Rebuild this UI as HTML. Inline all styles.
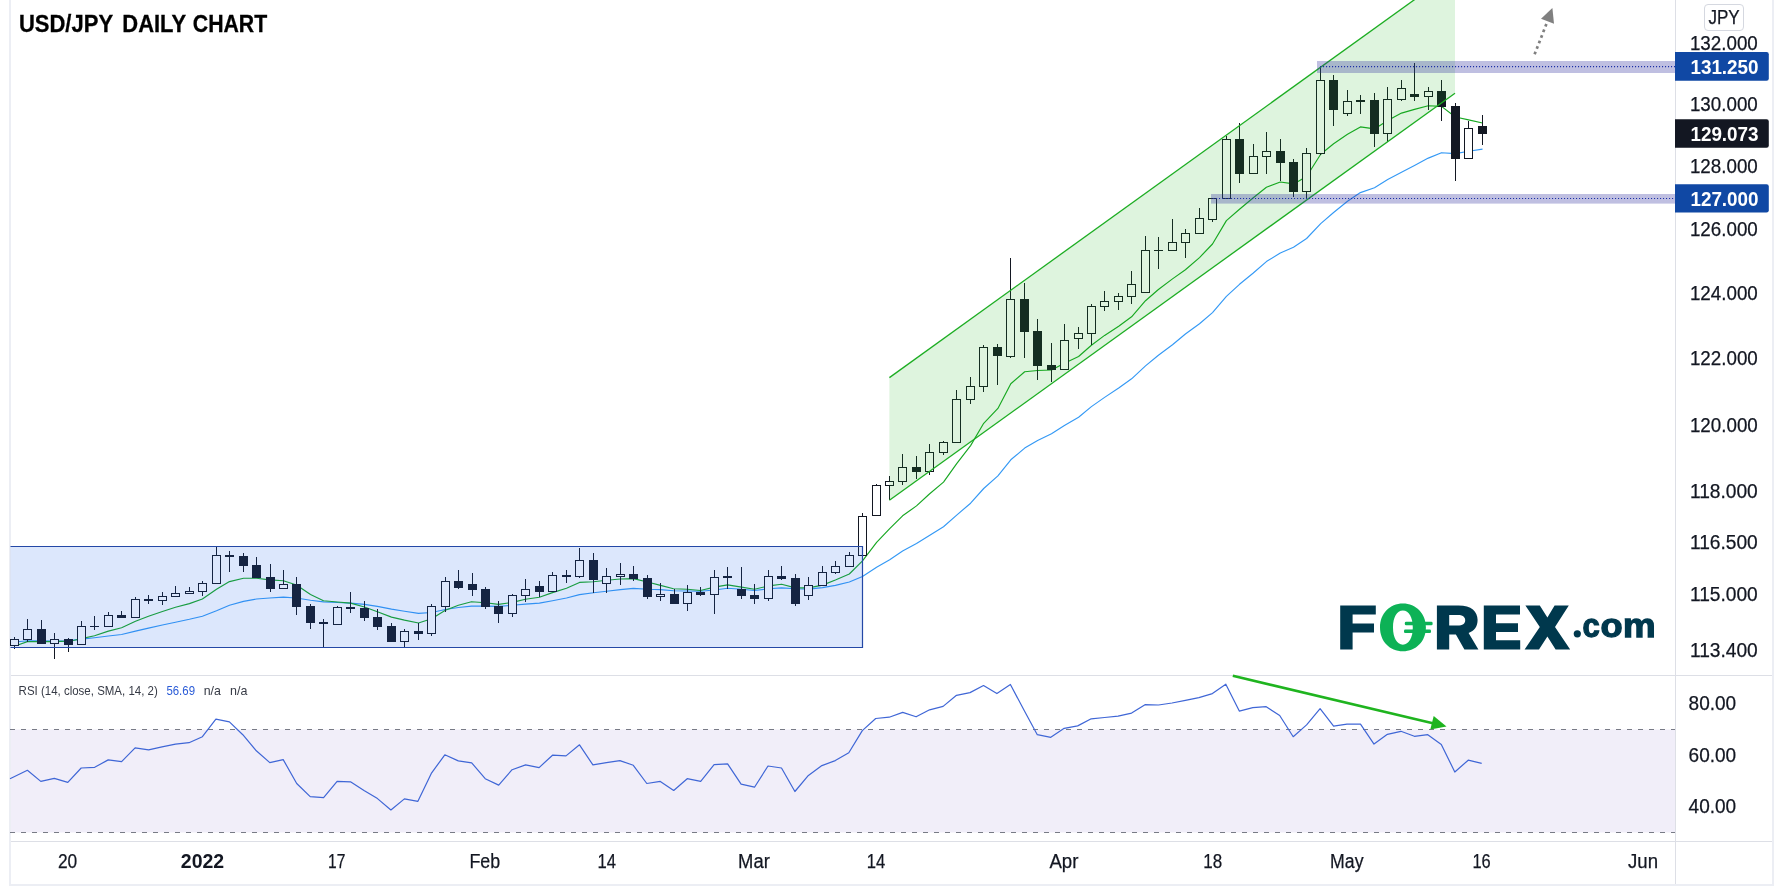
<!DOCTYPE html>
<html><head><meta charset="utf-8"><title>USD/JPY Daily Chart</title>
<style>html,body{margin:0;padding:0;background:#fff;}body{width:1783px;height:887px;overflow:hidden;font-family:"Liberation Sans",sans-serif;}svg{display:block;will-change:transform;}text{font-family:"Liberation Sans",sans-serif;}</style>
</head><body>
<svg width="1783" height="887" viewBox="0 0 1783 887">
<rect x="0" y="0" width="1783" height="887" fill="#ffffff"/>
<g shape-rendering="crispEdges">
<rect x="9" y="0" width="2" height="886" fill="#eceef4"/>
<rect x="1772" y="0" width="2" height="886" fill="#eceef4"/>
<rect x="9" y="884" width="1765" height="2" fill="#eceef4"/>
<rect x="11" y="675" width="1761" height="1" fill="#dddfe6"/>
<rect x="11" y="841" width="1761" height="1" fill="#dddfe6"/>
<rect x="1675" y="0" width="1" height="884" fill="#dddfe6"/>
</g>
<rect x="11" y="729.5" width="1664" height="103" fill="#f1eef9"/>
<g stroke="#787b86" stroke-width="1" stroke-dasharray="5 6" fill="none" shape-rendering="crispEdges">
<line x1="9.9" y1="729.5" x2="1675" y2="729.5"/>
<line x1="9.9" y1="832.5" x2="1675" y2="832.5"/>
</g>
<polyline points="10.0,778.7 27.4,770.3 40.8,781.4 54.3,778.4 67.8,782.4 81.2,768.0 94.7,767.3 108.2,759.9 121.6,761.6 135.1,747.8 148.6,749.8 162.0,746.8 175.5,744.1 189.0,742.7 202.4,736.7 215.9,719.2 229.4,721.9 242.8,734.7 256.3,750.8 269.8,762.6 283.2,759.6 296.7,783.5 310.2,796.6 323.6,797.6 337.1,781.4 350.5,781.8 364.0,790.5 377.5,798.6 390.9,810.0 404.4,798.9 417.9,801.3 431.3,773.4 444.8,754.8 458.3,760.9 471.7,762.9 485.2,778.7 498.7,785.1 512.1,769.7 525.6,764.9 539.1,767.6 552.5,755.2 566.0,755.9 579.5,744.8 592.9,764.9 606.4,762.6 619.9,760.6 633.3,765.3 646.8,783.5 660.3,781.4 673.7,790.5 687.2,778.7 700.7,781.4 714.1,764.6 727.6,763.9 741.1,784.1 754.5,787.2 768.0,766.0 781.5,768.0 794.9,791.5 808.4,775.4 821.9,765.6 835.3,760.6 848.8,752.8 862.3,730.6 875.7,718.5 889.2,717.2 902.7,712.4 916.1,716.8 929.6,709.8 943.1,706.4 956.5,695.3 970.0,692.6 983.5,685.5 996.9,693.6 1010.4,684.5 1023.8,709.8 1037.3,734.7 1050.8,737.3 1064.2,728.3 1077.7,725.9 1091.2,718.8 1104.6,717.5 1118.1,716.1 1131.6,713.1 1145.0,704.7 1158.5,705.0 1172.0,703.0 1185.4,700.3 1198.9,697.6 1212.4,693.6 1225.8,684.2 1239.3,711.1 1252.8,707.7 1266.2,706.7 1279.7,715.5 1293.2,736.7 1306.6,724.9 1320.1,708.7 1333.6,726.2 1347.0,724.2 1360.5,724.2 1374.0,744.1 1387.4,734.3 1400.9,731.3 1414.4,736.3 1427.8,734.7 1441.3,744.4 1454.8,772.0 1468.2,760.2 1481.7,763.3" fill="none" stroke="#3f66d6" stroke-width="1.2" stroke-linejoin="round"/>
<polyline points="10.5,642.5 27.4,640.8 41.4,640.8 54.5,641.1 67.5,640.8 81.5,639.1 94.5,637.7 108.4,636.0 121.6,634.5 135.5,631.1 148.5,628.1 162.4,625.0 175.5,622.2 189.4,619.3 202.4,616.2 216.5,610.8 229.5,605.3 243.5,601.4 256.5,599.0 269.6,598.0 283.4,597.1 296.5,598.0 310.5,600.3 323.5,601.9 337.5,602.5 350.5,603.1 364.4,604.4 377.4,606.4 391.5,609.1 404.5,611.2 418.5,613.4 431.6,612.5 445.4,609.5 458.4,607.5 471.5,606.1 485.5,606.1 498.5,606.4 512.4,605.3 525.4,604.1 539.4,603.1 552.5,600.7 566.5,598.0 579.5,594.6 593.5,592.7 606.6,591.3 620.4,589.6 633.4,588.4 647.5,589.3 660.5,589.6 673.5,590.8 687.4,591.0 700.4,591.3 714.4,590.0 727.6,588.3 741.5,589.3 754.5,590.5 768.6,588.8 781.6,587.9 795.5,588.8 808.5,589.1 822.5,587.6 835.4,585.4 849.3,582.0 862.5,576.5 876.6,567.2 889.7,559.8 902.6,551.1 916.5,543.6 929.4,535.4 943.5,526.7 956.7,515.1 970.6,503.2 983.7,488.5 997.9,475.9 1010.8,459.8 1024.7,448.1 1037.6,440.4 1051.5,433.8 1064.4,425.6 1078.6,417.2 1091.4,406.6 1104.6,397.4 1118.7,388.0 1131.6,378.8 1145.5,365.9 1158.4,355.2 1172.5,344.8 1185.4,334.0 1199.5,323.8 1212.5,312.6 1226.4,296.3 1239.5,284.3 1253.0,273.3 1266.4,261.6 1280.3,253.0 1293.5,247.2 1306.6,238.5 1320.7,223.6 1333.6,212.5 1347.5,201.3 1360.4,192.6 1374.5,187.7 1387.7,179.5 1401.5,172.2 1414.5,165.4 1428.3,158.1 1441.5,152.7 1455.4,153.6 1468.6,151.3 1482.5,149.1" fill="none" stroke="#3499f5" stroke-width="1.15" stroke-linejoin="round"/>
<polyline points="10.0,645.5 18.6,644.7 27.4,641.6 41.4,641.6 54.5,641.6 67.5,641.1 74.4,640.3 81.5,638.6 94.5,635.7 108.4,631.1 121.6,627.8 135.5,621.3 148.5,616.2 162.4,611.5 175.5,607.3 189.4,603.6 202.4,599.0 216.5,589.2 229.5,581.6 243.5,578.2 256.5,578.2 269.6,579.9 283.4,580.7 296.5,585.0 310.5,594.5 323.5,600.7 337.5,602.0 350.5,603.1 364.4,607.0 377.4,611.7 391.5,617.1 404.5,620.1 418.5,623.0 431.6,618.8 445.4,610.3 458.4,605.3 471.5,601.7 485.5,602.7 498.5,604.4 512.4,602.4 525.4,599.3 539.4,597.3 552.5,592.6 566.5,588.3 579.5,582.4 593.5,581.7 606.6,580.3 620.4,579.0 633.4,578.6 647.5,582.0 660.5,585.4 673.5,588.8 687.4,589.3 700.4,590.5 714.4,587.1 727.6,584.9 741.5,587.1 754.5,589.3 768.6,585.9 781.6,584.2 795.5,587.9 808.5,587.9 822.5,585.1 835.4,580.0 849.3,574.0 862.5,560.8 876.6,542.4 889.7,528.7 902.6,515.8 916.5,505.9 929.4,494.0 943.5,482.1 956.7,463.7 970.6,445.6 983.7,423.3 997.9,408.4 1010.8,383.7 1024.7,371.8 1037.6,370.5 1051.5,370.0 1064.4,363.2 1078.6,356.5 1091.4,345.3 1104.6,335.4 1118.7,326.2 1131.6,316.8 1145.5,300.7 1158.4,289.5 1172.5,278.9 1185.4,269.8 1199.5,257.6 1212.5,244.0 1226.4,220.6 1239.5,209.3 1253.0,198.0 1266.4,187.3 1280.3,182.0 1293.7,183.9 1306.6,176.5 1320.7,154.2 1333.6,143.8 1347.5,134.3 1360.4,126.9 1374.5,128.9 1387.7,120.5 1401.5,113.1 1414.5,109.4 1428.3,105.8 1441.5,106.4 1455.4,117.0 1468.6,119.9 1482.5,123.0" fill="none" stroke="#17a722" stroke-width="1.15" stroke-linejoin="round"/>
<g shape-rendering="crispEdges">
<rect x="14" y="637" width="1" height="12" fill="#131722"/>
<rect x="10" y="639" width="9" height="7" fill="#131722"/>
<rect x="11" y="640" width="7" height="5" fill="#ffffff"/>
<rect x="27" y="619" width="1" height="23" fill="#131722"/>
<rect x="23" y="629" width="9" height="11" fill="#131722"/>
<rect x="24" y="630" width="7" height="9" fill="#ffffff"/>
<rect x="41" y="620" width="1" height="24" fill="#131722"/>
<rect x="37" y="629" width="9" height="15" fill="#131722"/>
<rect x="54" y="633" width="1" height="26" fill="#131722"/>
<rect x="50" y="639" width="9" height="5" fill="#131722"/>
<rect x="51" y="640" width="7" height="3" fill="#ffffff"/>
<rect x="68" y="638" width="1" height="14" fill="#131722"/>
<rect x="64" y="639" width="9" height="6" fill="#131722"/>
<rect x="81" y="621" width="1" height="24" fill="#131722"/>
<rect x="77" y="626" width="9" height="19" fill="#131722"/>
<rect x="78" y="627" width="7" height="17" fill="#ffffff"/>
<rect x="94" y="616" width="1" height="14" fill="#131722"/>
<rect x="90" y="626" width="9" height="1" fill="#131722"/>
<rect x="108" y="612" width="1" height="15" fill="#131722"/>
<rect x="104" y="615" width="9" height="12" fill="#131722"/>
<rect x="105" y="616" width="7" height="10" fill="#ffffff"/>
<rect x="121" y="611" width="1" height="7" fill="#131722"/>
<rect x="117" y="615" width="9" height="3" fill="#131722"/>
<rect x="135" y="597" width="1" height="21" fill="#131722"/>
<rect x="131" y="599" width="9" height="19" fill="#131722"/>
<rect x="132" y="600" width="7" height="17" fill="#ffffff"/>
<rect x="148" y="595" width="1" height="9" fill="#131722"/>
<rect x="144" y="599" width="9" height="2" fill="#131722"/>
<rect x="162" y="592" width="1" height="13" fill="#131722"/>
<rect x="158" y="596" width="9" height="5" fill="#131722"/>
<rect x="159" y="597" width="7" height="3" fill="#ffffff"/>
<rect x="175" y="586" width="1" height="11" fill="#131722"/>
<rect x="171" y="593" width="9" height="4" fill="#131722"/>
<rect x="172" y="594" width="7" height="2" fill="#ffffff"/>
<rect x="189" y="587" width="1" height="7" fill="#131722"/>
<rect x="185" y="591" width="9" height="3" fill="#131722"/>
<rect x="186" y="592" width="7" height="1" fill="#ffffff"/>
<rect x="202" y="581" width="1" height="15" fill="#131722"/>
<rect x="198" y="583" width="9" height="9" fill="#131722"/>
<rect x="199" y="584" width="7" height="7" fill="#ffffff"/>
<rect x="216" y="546" width="1" height="38" fill="#131722"/>
<rect x="212" y="555" width="9" height="29" fill="#131722"/>
<rect x="213" y="556" width="7" height="27" fill="#ffffff"/>
<rect x="229" y="551" width="1" height="21" fill="#131722"/>
<rect x="225" y="555" width="9" height="2" fill="#131722"/>
<rect x="243" y="553" width="1" height="19" fill="#131722"/>
<rect x="239" y="556" width="9" height="10" fill="#131722"/>
<rect x="256" y="557" width="1" height="21" fill="#131722"/>
<rect x="252" y="565" width="9" height="13" fill="#131722"/>
<rect x="270" y="564" width="1" height="28" fill="#131722"/>
<rect x="266" y="577" width="9" height="12" fill="#131722"/>
<rect x="283" y="570" width="1" height="19" fill="#131722"/>
<rect x="279" y="584" width="9" height="5" fill="#131722"/>
<rect x="280" y="585" width="7" height="3" fill="#ffffff"/>
<rect x="296" y="577" width="1" height="38" fill="#131722"/>
<rect x="292" y="584" width="9" height="23" fill="#131722"/>
<rect x="310" y="604" width="1" height="25" fill="#131722"/>
<rect x="306" y="606" width="9" height="17" fill="#131722"/>
<rect x="323" y="619" width="1" height="28" fill="#131722"/>
<rect x="319" y="622" width="9" height="2" fill="#131722"/>
<rect x="337" y="606" width="1" height="19" fill="#131722"/>
<rect x="333" y="607" width="9" height="18" fill="#131722"/>
<rect x="334" y="608" width="7" height="16" fill="#ffffff"/>
<rect x="350" y="592" width="1" height="21" fill="#131722"/>
<rect x="346" y="607" width="9" height="2" fill="#131722"/>
<rect x="364" y="601" width="1" height="20" fill="#131722"/>
<rect x="360" y="608" width="9" height="10" fill="#131722"/>
<rect x="377" y="609" width="1" height="21" fill="#131722"/>
<rect x="373" y="617" width="9" height="10" fill="#131722"/>
<rect x="391" y="623" width="1" height="19" fill="#131722"/>
<rect x="387" y="626" width="9" height="16" fill="#131722"/>
<rect x="404" y="629" width="1" height="18" fill="#131722"/>
<rect x="400" y="631" width="9" height="11" fill="#131722"/>
<rect x="401" y="632" width="7" height="9" fill="#ffffff"/>
<rect x="418" y="623" width="1" height="17" fill="#131722"/>
<rect x="414" y="631" width="9" height="3" fill="#131722"/>
<rect x="431" y="604" width="1" height="32" fill="#131722"/>
<rect x="427" y="606" width="9" height="28" fill="#131722"/>
<rect x="428" y="607" width="7" height="26" fill="#ffffff"/>
<rect x="445" y="577" width="1" height="35" fill="#131722"/>
<rect x="441" y="581" width="9" height="26" fill="#131722"/>
<rect x="442" y="582" width="7" height="24" fill="#ffffff"/>
<rect x="458" y="570" width="1" height="19" fill="#131722"/>
<rect x="454" y="581" width="9" height="7" fill="#131722"/>
<rect x="472" y="573" width="1" height="23" fill="#131722"/>
<rect x="468" y="584" width="9" height="6" fill="#131722"/>
<rect x="485" y="587" width="1" height="22" fill="#131722"/>
<rect x="481" y="589" width="9" height="18" fill="#131722"/>
<rect x="498" y="601" width="1" height="22" fill="#131722"/>
<rect x="494" y="606" width="9" height="8" fill="#131722"/>
<rect x="512" y="594" width="1" height="23" fill="#131722"/>
<rect x="508" y="595" width="9" height="19" fill="#131722"/>
<rect x="509" y="596" width="7" height="17" fill="#ffffff"/>
<rect x="525" y="579" width="1" height="23" fill="#131722"/>
<rect x="521" y="589" width="9" height="7" fill="#131722"/>
<rect x="522" y="590" width="7" height="5" fill="#ffffff"/>
<rect x="539" y="581" width="1" height="16" fill="#131722"/>
<rect x="535" y="586" width="9" height="6" fill="#131722"/>
<rect x="552" y="572" width="1" height="20" fill="#131722"/>
<rect x="548" y="575" width="9" height="17" fill="#131722"/>
<rect x="549" y="576" width="7" height="15" fill="#ffffff"/>
<rect x="566" y="570" width="1" height="13" fill="#131722"/>
<rect x="562" y="575" width="9" height="2" fill="#131722"/>
<rect x="579" y="548" width="1" height="30" fill="#131722"/>
<rect x="575" y="560" width="9" height="17" fill="#131722"/>
<rect x="576" y="561" width="7" height="15" fill="#ffffff"/>
<rect x="593" y="553" width="1" height="40" fill="#131722"/>
<rect x="589" y="560" width="9" height="20" fill="#131722"/>
<rect x="606" y="568" width="1" height="25" fill="#131722"/>
<rect x="602" y="576" width="9" height="8" fill="#131722"/>
<rect x="603" y="577" width="7" height="6" fill="#ffffff"/>
<rect x="620" y="563" width="1" height="22" fill="#131722"/>
<rect x="616" y="574" width="9" height="3" fill="#131722"/>
<rect x="617" y="575" width="7" height="1" fill="#ffffff"/>
<rect x="633" y="566" width="1" height="15" fill="#131722"/>
<rect x="629" y="574" width="9" height="5" fill="#131722"/>
<rect x="647" y="575" width="1" height="24" fill="#131722"/>
<rect x="643" y="578" width="9" height="19" fill="#131722"/>
<rect x="660" y="583" width="1" height="18" fill="#131722"/>
<rect x="656" y="594" width="9" height="3" fill="#131722"/>
<rect x="657" y="595" width="7" height="1" fill="#ffffff"/>
<rect x="674" y="589" width="1" height="15" fill="#131722"/>
<rect x="670" y="594" width="9" height="10" fill="#131722"/>
<rect x="687" y="585" width="1" height="26" fill="#131722"/>
<rect x="683" y="592" width="9" height="12" fill="#131722"/>
<rect x="684" y="593" width="7" height="10" fill="#ffffff"/>
<rect x="700" y="587" width="1" height="9" fill="#131722"/>
<rect x="696" y="592" width="9" height="3" fill="#131722"/>
<rect x="714" y="570" width="1" height="44" fill="#131722"/>
<rect x="710" y="577" width="9" height="18" fill="#131722"/>
<rect x="711" y="578" width="7" height="16" fill="#ffffff"/>
<rect x="727" y="567" width="1" height="22" fill="#131722"/>
<rect x="723" y="576" width="9" height="2" fill="#131722"/>
<rect x="741" y="567" width="1" height="32" fill="#131722"/>
<rect x="737" y="589" width="9" height="7" fill="#131722"/>
<rect x="754" y="584" width="1" height="20" fill="#131722"/>
<rect x="750" y="595" width="9" height="4" fill="#131722"/>
<rect x="768" y="570" width="1" height="31" fill="#131722"/>
<rect x="764" y="576" width="9" height="23" fill="#131722"/>
<rect x="765" y="577" width="7" height="21" fill="#ffffff"/>
<rect x="781" y="566" width="1" height="14" fill="#131722"/>
<rect x="777" y="576" width="9" height="3" fill="#131722"/>
<rect x="795" y="574" width="1" height="32" fill="#131722"/>
<rect x="791" y="578" width="9" height="26" fill="#131722"/>
<rect x="808" y="577" width="1" height="23" fill="#131722"/>
<rect x="804" y="585" width="9" height="11" fill="#131722"/>
<rect x="805" y="586" width="7" height="9" fill="#ffffff"/>
<rect x="822" y="566" width="1" height="20" fill="#131722"/>
<rect x="818" y="572" width="9" height="14" fill="#131722"/>
<rect x="819" y="573" width="7" height="12" fill="#ffffff"/>
<rect x="835" y="561" width="1" height="13" fill="#131722"/>
<rect x="831" y="566" width="9" height="7" fill="#131722"/>
<rect x="832" y="567" width="7" height="5" fill="#ffffff"/>
<rect x="849" y="552" width="1" height="15" fill="#131722"/>
<rect x="845" y="555" width="9" height="12" fill="#131722"/>
<rect x="846" y="556" width="7" height="10" fill="#ffffff"/>
<rect x="862" y="513" width="1" height="43" fill="#131722"/>
<rect x="858" y="516" width="9" height="40" fill="#131722"/>
<rect x="859" y="517" width="7" height="38" fill="#ffffff"/>
<rect x="876" y="484" width="1" height="32" fill="#131722"/>
<rect x="872" y="485" width="9" height="31" fill="#131722"/>
<rect x="873" y="486" width="7" height="29" fill="#ffffff"/>
<rect x="889" y="476" width="1" height="24" fill="#131722"/>
<rect x="885" y="481" width="9" height="5" fill="#131722"/>
<rect x="886" y="482" width="7" height="3" fill="#ffffff"/>
<rect x="902" y="454" width="1" height="31" fill="#131722"/>
<rect x="898" y="467" width="9" height="15" fill="#131722"/>
<rect x="899" y="468" width="7" height="13" fill="#ffffff"/>
<rect x="916" y="456" width="1" height="23" fill="#131722"/>
<rect x="912" y="467" width="9" height="5" fill="#131722"/>
<rect x="929" y="444" width="1" height="31" fill="#131722"/>
<rect x="925" y="452" width="9" height="20" fill="#131722"/>
<rect x="926" y="453" width="7" height="18" fill="#ffffff"/>
<rect x="943" y="441" width="1" height="14" fill="#131722"/>
<rect x="939" y="442" width="9" height="11" fill="#131722"/>
<rect x="940" y="443" width="7" height="9" fill="#ffffff"/>
<rect x="956" y="390" width="1" height="53" fill="#131722"/>
<rect x="952" y="399" width="9" height="44" fill="#131722"/>
<rect x="953" y="400" width="7" height="42" fill="#ffffff"/>
<rect x="970" y="377" width="1" height="27" fill="#131722"/>
<rect x="966" y="386" width="9" height="14" fill="#131722"/>
<rect x="967" y="387" width="7" height="12" fill="#ffffff"/>
<rect x="983" y="345" width="1" height="47" fill="#131722"/>
<rect x="979" y="347" width="9" height="40" fill="#131722"/>
<rect x="980" y="348" width="7" height="38" fill="#ffffff"/>
<rect x="997" y="344" width="1" height="41" fill="#131722"/>
<rect x="993" y="347" width="9" height="9" fill="#131722"/>
<rect x="1010" y="258" width="1" height="100" fill="#131722"/>
<rect x="1006" y="299" width="9" height="58" fill="#131722"/>
<rect x="1007" y="300" width="7" height="56" fill="#ffffff"/>
<rect x="1024" y="283" width="1" height="75" fill="#131722"/>
<rect x="1020" y="299" width="9" height="33" fill="#131722"/>
<rect x="1037" y="319" width="1" height="61" fill="#131722"/>
<rect x="1033" y="331" width="9" height="35" fill="#131722"/>
<rect x="1051" y="343" width="1" height="39" fill="#131722"/>
<rect x="1047" y="365" width="9" height="5" fill="#131722"/>
<rect x="1064" y="324" width="1" height="46" fill="#131722"/>
<rect x="1060" y="340" width="9" height="30" fill="#131722"/>
<rect x="1061" y="341" width="7" height="28" fill="#ffffff"/>
<rect x="1078" y="327" width="1" height="22" fill="#131722"/>
<rect x="1074" y="333" width="9" height="6" fill="#131722"/>
<rect x="1075" y="334" width="7" height="4" fill="#ffffff"/>
<rect x="1091" y="304" width="1" height="41" fill="#131722"/>
<rect x="1087" y="306" width="9" height="28" fill="#131722"/>
<rect x="1088" y="307" width="7" height="26" fill="#ffffff"/>
<rect x="1104" y="291" width="1" height="20" fill="#131722"/>
<rect x="1100" y="301" width="9" height="6" fill="#131722"/>
<rect x="1101" y="302" width="7" height="4" fill="#ffffff"/>
<rect x="1118" y="293" width="1" height="17" fill="#131722"/>
<rect x="1114" y="296" width="9" height="6" fill="#131722"/>
<rect x="1115" y="297" width="7" height="4" fill="#ffffff"/>
<rect x="1131" y="271" width="1" height="33" fill="#131722"/>
<rect x="1127" y="284" width="9" height="13" fill="#131722"/>
<rect x="1128" y="285" width="7" height="11" fill="#ffffff"/>
<rect x="1145" y="236" width="1" height="57" fill="#131722"/>
<rect x="1141" y="250" width="9" height="43" fill="#131722"/>
<rect x="1142" y="251" width="7" height="41" fill="#ffffff"/>
<rect x="1158" y="237" width="1" height="32" fill="#131722"/>
<rect x="1154" y="250" width="9" height="1" fill="#131722"/>
<rect x="1172" y="219" width="1" height="32" fill="#131722"/>
<rect x="1168" y="242" width="9" height="9" fill="#131722"/>
<rect x="1169" y="243" width="7" height="7" fill="#ffffff"/>
<rect x="1185" y="229" width="1" height="29" fill="#131722"/>
<rect x="1181" y="233" width="9" height="10" fill="#131722"/>
<rect x="1182" y="234" width="7" height="8" fill="#ffffff"/>
<rect x="1199" y="208" width="1" height="26" fill="#131722"/>
<rect x="1195" y="218" width="9" height="16" fill="#131722"/>
<rect x="1196" y="219" width="7" height="14" fill="#ffffff"/>
<rect x="1212" y="198" width="1" height="24" fill="#131722"/>
<rect x="1208" y="198" width="9" height="22" fill="#131722"/>
<rect x="1209" y="199" width="7" height="20" fill="#ffffff"/>
<rect x="1226" y="136" width="1" height="63" fill="#131722"/>
<rect x="1222" y="139" width="9" height="60" fill="#131722"/>
<rect x="1223" y="140" width="7" height="58" fill="#ffffff"/>
<rect x="1239" y="123" width="1" height="60" fill="#131722"/>
<rect x="1235" y="139" width="9" height="35" fill="#131722"/>
<rect x="1253" y="144" width="1" height="30" fill="#131722"/>
<rect x="1249" y="156" width="9" height="18" fill="#131722"/>
<rect x="1250" y="157" width="7" height="16" fill="#ffffff"/>
<rect x="1266" y="132" width="1" height="42" fill="#131722"/>
<rect x="1262" y="151" width="9" height="6" fill="#131722"/>
<rect x="1263" y="152" width="7" height="4" fill="#ffffff"/>
<rect x="1280" y="139" width="1" height="42" fill="#131722"/>
<rect x="1276" y="151" width="9" height="12" fill="#131722"/>
<rect x="1293" y="159" width="1" height="38" fill="#131722"/>
<rect x="1289" y="162" width="9" height="30" fill="#131722"/>
<rect x="1306" y="148" width="1" height="51" fill="#131722"/>
<rect x="1302" y="153" width="9" height="39" fill="#131722"/>
<rect x="1303" y="154" width="7" height="37" fill="#ffffff"/>
<rect x="1320" y="66" width="1" height="89" fill="#131722"/>
<rect x="1316" y="80" width="9" height="74" fill="#131722"/>
<rect x="1317" y="81" width="7" height="72" fill="#ffffff"/>
<rect x="1333" y="75" width="1" height="51" fill="#131722"/>
<rect x="1329" y="80" width="9" height="30" fill="#131722"/>
<rect x="1347" y="90" width="1" height="26" fill="#131722"/>
<rect x="1343" y="101" width="9" height="13" fill="#131722"/>
<rect x="1344" y="102" width="7" height="11" fill="#ffffff"/>
<rect x="1360" y="95" width="1" height="19" fill="#131722"/>
<rect x="1356" y="100" width="9" height="2" fill="#131722"/>
<rect x="1374" y="93" width="1" height="54" fill="#131722"/>
<rect x="1370" y="100" width="9" height="34" fill="#131722"/>
<rect x="1387" y="87" width="1" height="55" fill="#131722"/>
<rect x="1383" y="99" width="9" height="35" fill="#131722"/>
<rect x="1384" y="100" width="7" height="33" fill="#ffffff"/>
<rect x="1401" y="80" width="1" height="21" fill="#131722"/>
<rect x="1397" y="88" width="9" height="12" fill="#131722"/>
<rect x="1398" y="89" width="7" height="10" fill="#ffffff"/>
<rect x="1414" y="63" width="1" height="38" fill="#131722"/>
<rect x="1410" y="94" width="9" height="3" fill="#131722"/>
<rect x="1428" y="87" width="1" height="23" fill="#131722"/>
<rect x="1424" y="91" width="9" height="6" fill="#131722"/>
<rect x="1425" y="92" width="7" height="4" fill="#ffffff"/>
<rect x="1441" y="80" width="1" height="41" fill="#131722"/>
<rect x="1437" y="91" width="9" height="16" fill="#131722"/>
<rect x="1455" y="103" width="1" height="78" fill="#131722"/>
<rect x="1451" y="106" width="9" height="53" fill="#131722"/>
<rect x="1468" y="121" width="1" height="38" fill="#131722"/>
<rect x="1464" y="128" width="9" height="31" fill="#131722"/>
<rect x="1465" y="129" width="7" height="29" fill="#ffffff"/>
<rect x="1482" y="115" width="1" height="30" fill="#131722"/>
<rect x="1478" y="126" width="9" height="8" fill="#131722"/>
</g>
<rect x="10.5" y="546.5" width="852" height="101" fill="rgba(36,105,235,0.16)"/>
<path d="M10.5,546.5 H862.5 V647.5 H10.5" fill="none" stroke="#2448a6" stroke-width="1.2"/>
<polygon points="889.4,377.6 1455.0,-29.5 1455.0,93.2 889.4,500.3" fill="rgba(30,179,30,0.145)"/>
<line x1="889.4" y1="377.6" x2="1455.0" y2="-29.5" stroke="#1cad22" stroke-width="1.3"/>
<line x1="889.4" y1="500.3" x2="1455.0" y2="93.2" stroke="#1cad22" stroke-width="1.3"/>
<rect x="1317" y="61" width="358" height="12" fill="rgba(50,52,160,0.315)"/>
<rect x="1211" y="194" width="464" height="9.6" fill="rgba(50,52,160,0.315)"/>
<g stroke="#1c2fa6" stroke-width="1.05" stroke-dasharray="1.1 1.9" fill="none">
<line x1="1320" y1="66.6" x2="1675" y2="66.6"/>
<line x1="1213" y1="198.4" x2="1675" y2="198.4"/>
</g>
<line x1="1534.6" y1="54.3" x2="1546.5" y2="23.8" stroke="#7f7f7f" stroke-width="2.7" stroke-dasharray="2.7 3.25"/>
<polygon points="1552.4,7.9 1541.0,18.7 1554.0,23.8" fill="#808080"/>
<line x1="1232.8" y1="675.8" x2="1436" y2="724.1" stroke="#1fb41f" stroke-width="2.6"/>
<polygon points="1446.5,726.6 1433.7,716.1 1430.3,729.6" fill="#1fb41f"/>
<g>
<text x="1689.9" y="49.8" font-size="20" stroke="#131722" stroke-width="0.25" fill="#131722" textLength="67.9" lengthAdjust="spacingAndGlyphs">132.000</text>
<text x="1689.9" y="110.9" font-size="20" stroke="#131722" stroke-width="0.25" fill="#131722" textLength="67.9" lengthAdjust="spacingAndGlyphs">130.000</text>
<text x="1689.9" y="172.9" font-size="20" stroke="#131722" stroke-width="0.25" fill="#131722" textLength="67.9" lengthAdjust="spacingAndGlyphs">128.000</text>
<text x="1689.9" y="236.0" font-size="20" stroke="#131722" stroke-width="0.25" fill="#131722" textLength="67.9" lengthAdjust="spacingAndGlyphs">126.000</text>
<text x="1689.9" y="299.7" font-size="20" stroke="#131722" stroke-width="0.25" fill="#131722" textLength="67.9" lengthAdjust="spacingAndGlyphs">124.000</text>
<text x="1689.9" y="365.3" font-size="20" stroke="#131722" stroke-width="0.25" fill="#131722" textLength="67.9" lengthAdjust="spacingAndGlyphs">122.000</text>
<text x="1689.9" y="431.6" font-size="20" stroke="#131722" stroke-width="0.25" fill="#131722" textLength="67.9" lengthAdjust="spacingAndGlyphs">120.000</text>
<text x="1689.9" y="497.9" font-size="20" stroke="#131722" stroke-width="0.25" fill="#131722" textLength="67.9" lengthAdjust="spacingAndGlyphs">118.000</text>
<text x="1689.9" y="549.2" font-size="20" stroke="#131722" stroke-width="0.25" fill="#131722" textLength="67.9" lengthAdjust="spacingAndGlyphs">116.500</text>
<text x="1689.9" y="601.3" font-size="20" stroke="#131722" stroke-width="0.25" fill="#131722" textLength="67.9" lengthAdjust="spacingAndGlyphs">115.000</text>
<text x="1689.9" y="657.3" font-size="20" stroke="#131722" stroke-width="0.25" fill="#131722" textLength="67.9" lengthAdjust="spacingAndGlyphs">113.400</text>
<path d="M1675,52.0 H1766.5 Q1768.8,52.0 1768.8,54.3 V78.5 Q1768.8,80.8 1766.5,80.8 H1675 Z" fill="#1048a4"/>
<text x="1690.4" y="74.0" font-size="20" font-weight="bold" fill="#ffffff" textLength="68.2" lengthAdjust="spacingAndGlyphs">131.250</text>
<path d="M1675,119.3 H1766.5 Q1768.8,119.3 1768.8,121.6 V145.4 Q1768.8,147.7 1766.5,147.7 H1675 Z" fill="#131722"/>
<text x="1690.4" y="141.1" font-size="20" font-weight="bold" fill="#ffffff" textLength="68.2" lengthAdjust="spacingAndGlyphs">129.073</text>
<path d="M1675,184.2 H1766.5 Q1768.8,184.2 1768.8,186.5 V210.3 Q1768.8,212.6 1766.5,212.6 H1675 Z" fill="#1048a4"/>
<text x="1690.4" y="206.0" font-size="20" font-weight="bold" fill="#ffffff" textLength="68.2" lengthAdjust="spacingAndGlyphs">127.000</text>
<rect x="1704.5" y="4.5" width="39" height="26" rx="3.5" ry="3.5" fill="#ffffff" stroke="#d5d8e0" stroke-width="1"/>
<text x="1708.5" y="24.4" font-size="20" fill="#131722" stroke="#131722" stroke-width="0.25" textLength="31.2" lengthAdjust="spacingAndGlyphs">JPY</text>
<text x="1688.6" y="709.9" font-size="20" stroke="#131722" stroke-width="0.25" fill="#131722" textLength="47.6" lengthAdjust="spacingAndGlyphs">80.00</text>
<text x="1688.6" y="762.1" font-size="20" stroke="#131722" stroke-width="0.25" fill="#131722" textLength="47.6" lengthAdjust="spacingAndGlyphs">60.00</text>
<text x="1688.6" y="813.2" font-size="20" stroke="#131722" stroke-width="0.25" fill="#131722" textLength="47.6" lengthAdjust="spacingAndGlyphs">40.00</text>
<text x="57.9" y="868" font-size="20" stroke="#131722" stroke-width="0.25" fill="#131722" textLength="19.3" lengthAdjust="spacingAndGlyphs">20</text>
<text x="180.8" y="868" font-size="20" font-weight="bold" fill="#131722" textLength="43.4" lengthAdjust="spacingAndGlyphs">2022</text>
<text x="328.1" y="868" font-size="20" stroke="#131722" stroke-width="0.25" fill="#131722" textLength="17.3" lengthAdjust="spacingAndGlyphs">17</text>
<text x="469.4" y="868" font-size="20" stroke="#131722" stroke-width="0.25" fill="#131722" textLength="30.7" lengthAdjust="spacingAndGlyphs">Feb</text>
<text x="597.5" y="868" font-size="20" stroke="#131722" stroke-width="0.25" fill="#131722" textLength="18.5" lengthAdjust="spacingAndGlyphs">14</text>
<text x="738.1" y="868" font-size="20" stroke="#131722" stroke-width="0.25" fill="#131722" textLength="31.7" lengthAdjust="spacingAndGlyphs">Mar</text>
<text x="866.8" y="868" font-size="20" stroke="#131722" stroke-width="0.25" fill="#131722" textLength="18.5" lengthAdjust="spacingAndGlyphs">14</text>
<text x="1049.4" y="868" font-size="20" stroke="#131722" stroke-width="0.25" fill="#131722" textLength="29.0" lengthAdjust="spacingAndGlyphs">Apr</text>
<text x="1203.3" y="868" font-size="20" stroke="#131722" stroke-width="0.25" fill="#131722" textLength="18.9" lengthAdjust="spacingAndGlyphs">18</text>
<text x="1330.1" y="868" font-size="20" stroke="#131722" stroke-width="0.25" fill="#131722" textLength="33.4" lengthAdjust="spacingAndGlyphs">May</text>
<text x="1472.4" y="868" font-size="20" stroke="#131722" stroke-width="0.25" fill="#131722" textLength="18.3" lengthAdjust="spacingAndGlyphs">16</text>
<text x="1628.0" y="868" font-size="20" stroke="#131722" stroke-width="0.25" fill="#131722" textLength="30.0" lengthAdjust="spacingAndGlyphs">Jun</text>
<text y="31.8" font-size="24.4" font-weight="bold" fill="#000000" stroke="#000000" stroke-width="0.3"><tspan x="18.9" textLength="93.8" lengthAdjust="spacingAndGlyphs">USD/JPY</tspan> <tspan x="122.3" textLength="63.4" lengthAdjust="spacingAndGlyphs">DAILY</tspan> <tspan x="192.8" textLength="74.4" lengthAdjust="spacingAndGlyphs">CHART</tspan></text>
<text x="18.6" y="694.9" font-size="12.2" fill="#363a45" textLength="139.2" lengthAdjust="spacingAndGlyphs">RSI (14, close, SMA, 14, 2)</text>
<text x="166.4" y="694.9" font-size="12.2" fill="#2a5bd7" textLength="28.6" lengthAdjust="spacingAndGlyphs">56.69</text>
<text x="203.7" y="694.9" font-size="12.2" fill="#363a45" textLength="17.2" lengthAdjust="spacingAndGlyphs">n/a</text>
<text x="230.1" y="694.9" font-size="12.2" fill="#363a45" textLength="17.4" lengthAdjust="spacingAndGlyphs">n/a</text>
</g>
<defs><filter id="lb" x="-5%" y="-20%" width="110%" height="140%"><feGaussianBlur stdDeviation="0.45"/></filter></defs>
<g filter="url(#lb)">
<path d="M1340.2,605.4 H1375.8 V614.6 H1352.6 V623.4 H1374 V632.6 H1352.6 V649.4 H1340.2 Z" fill="#04394e"/>
<path fill-rule="evenodd" d="M1402.9,603.5 C1416,603.5 1425.9,613.5 1425.9,627.4 C1425.9,641.3 1416,651.2 1402.9,651.2 C1389.8,651.2 1380,641.3 1380,627.4 C1380,613.5 1389.8,603.5 1402.9,603.5 Z M1402.9,610.6 C1396.8,610.6 1393,617.5 1393,627.6 C1393,637.7 1396.8,644.7 1402.9,644.7 C1409,644.7 1412.8,637.7 1412.8,627.6 C1412.8,617.5 1409,610.6 1402.9,610.6 Z" fill="#0ab257"/>
<rect x="1404.8" y="621.8" width="27.8" height="3.5" rx="1.3" fill="#0ab257"/>
<rect x="1404" y="629.4" width="27" height="3.6" rx="1.3" fill="#0ab257"/>
<path fill-rule="evenodd" d="M1436.9,605.4 H1458.5 C1471.5,605.4 1477.6,611.3 1477.6,620 C1477.6,626.6 1474.3,630.8 1468.6,632.9 L1478.4,649.4 H1464.4 L1455.9,634.6 H1449.2 V649.4 H1436.9 Z M1449.2,614.9 V625.6 H1457.6 C1462.6,625.6 1465.2,623.6 1465.2,620.2 C1465.2,616.8 1462.6,614.9 1457.6,614.9 Z" fill="#04394e"/>
<path d="M1483.8,605.4 H1520 V614.5 H1496 V623.2 H1518 V632 H1496 V640.2 H1520.2 V649.4 H1483.8 Z" fill="#04394e"/>
<path d="M1525.4,605.4 H1539.8 L1547.4,617.6 L1554.6,605.4 H1568.8 L1555,627 L1570.2,649.4 H1555.6 L1547.4,636.6 L1539,649.4 H1524.6 L1539.8,627 Z" fill="#04394e"/>
<circle cx="1577.3" cy="633.8" r="3.6" fill="#04394e"/>
<text y="637.0" font-size="33.5" font-weight="bold" fill="#04394e" stroke="#04394e" stroke-width="1.3"><tspan x="1582.4" textLength="17.2" lengthAdjust="spacingAndGlyphs">c</tspan><tspan x="1600.5" textLength="22.1" lengthAdjust="spacingAndGlyphs">o</tspan><tspan x="1623.1" textLength="32.6" lengthAdjust="spacingAndGlyphs">m</tspan></text>
</g>
</svg>
</body></html>
